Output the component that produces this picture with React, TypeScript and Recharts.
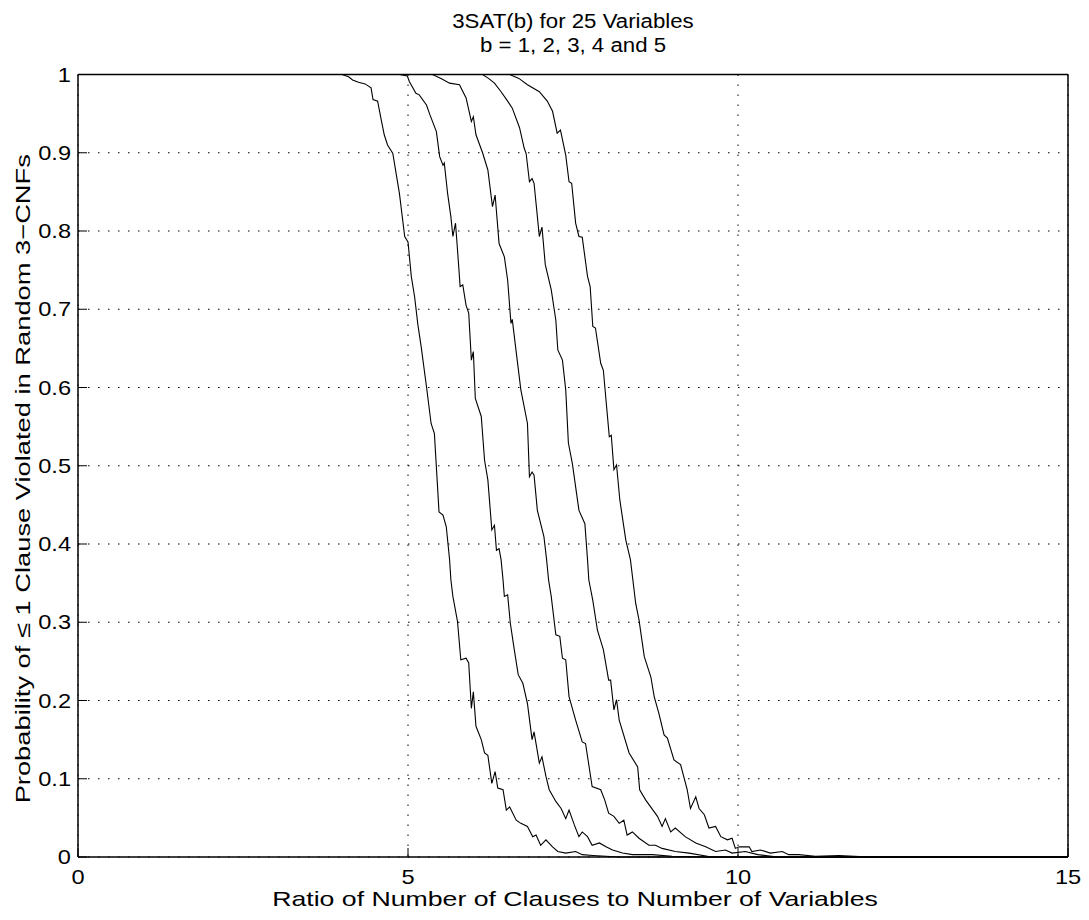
import { LineChart, Line, XAxis, YAxis, CartesianGrid, Label } from 'recharts'

const FONT = '"Liberation Sans", Arial, Helvetica, sans-serif'
const TICK_LEN = 9

const xTicks = [0, 5, 10, 15]
const yTicks = [0, 0.1, 0.2, 0.3, 0.4, 0.5, 0.6, 0.7, 0.8, 0.9, 1]

const title1 = '3SAT(b) for 25 Variables'
const title2 = 'b = 1, 2, 3, 4 and 5'
const xLabel = 'Ratio of Number of Clauses to Number of Variables'
const yLabel = 'Probability of \u2264 1 Clause Violated in Random 3\u2212CNFs'

// [ratio, probability], one list per b
const b1 = [
  [0, 1], [4.0, 1], [4.1, 0.997], [4.16, 0.993], [4.25, 0.99], [4.35, 0.988], [4.44, 0.983],
  [4.47, 0.968], [4.54, 0.966], [4.59, 0.944], [4.64, 0.923], [4.69, 0.91], [4.75, 0.902],
  [4.77, 0.899], [4.87, 0.848], [4.95, 0.793], [5.0, 0.786], [5.05, 0.742], [5.1, 0.716],
  [5.15, 0.68], [5.2, 0.652], [5.28, 0.601], [5.35, 0.554], [5.4, 0.541], [5.47, 0.441],
  [5.53, 0.437], [5.58, 0.422], [5.63, 0.38], [5.65, 0.354], [5.68, 0.333], [5.75, 0.301],
  [5.8, 0.252], [5.88, 0.254], [5.92, 0.248], [5.96, 0.19], [5.99, 0.211], [6.03, 0.167],
  [6.11, 0.15], [6.16, 0.133], [6.21, 0.13], [6.27, 0.094], [6.32, 0.109], [6.36, 0.088],
  [6.44, 0.086], [6.49, 0.06], [6.54, 0.064], [6.64, 0.047], [6.71, 0.043], [6.81, 0.039],
  [6.89, 0.026], [6.94, 0.028], [7.01, 0.015], [7.09, 0.022], [7.19, 0.013], [7.27, 0.007],
  [7.39, 0.005], [7.54, 0.007], [7.64, 0.003], [7.8, 0.002], [8.2, 0], [15, 0],
]

const b2 = [
  [0, 1], [4.87, 1], [4.99, 0.998], [5.02, 0.991], [5.12, 0.976], [5.17, 0.974], [5.28, 0.961],
  [5.33, 0.949], [5.43, 0.927], [5.48, 0.895], [5.53, 0.884], [5.55, 0.887], [5.6, 0.848],
  [5.65, 0.818], [5.68, 0.793], [5.72, 0.81], [5.75, 0.776], [5.79, 0.729], [5.83, 0.731],
  [5.88, 0.705], [5.92, 0.695], [5.96, 0.635], [5.99, 0.646], [6.02, 0.586], [6.11, 0.563],
  [6.16, 0.507], [6.21, 0.482], [6.27, 0.418], [6.31, 0.424], [6.34, 0.392], [6.38, 0.394],
  [6.41, 0.38], [6.44, 0.354], [6.46, 0.333], [6.51, 0.335], [6.55, 0.299], [6.61, 0.265],
  [6.67, 0.233], [6.74, 0.222], [6.81, 0.196], [6.88, 0.15], [6.91, 0.16], [6.99, 0.12],
  [7.03, 0.128], [7.09, 0.103], [7.14, 0.086], [7.24, 0.071], [7.32, 0.062], [7.39, 0.049],
  [7.44, 0.06], [7.52, 0.041], [7.59, 0.026], [7.64, 0.032], [7.72, 0.026], [7.79, 0.015],
  [7.9, 0.018], [8.0, 0.013], [8.1, 0.009], [8.25, 0.005], [8.4, 0.003], [8.7, 0.003],
  [9.0, 0.001], [9.5, 0], [15, 0],
]

const b3 = [
  [0, 1], [5.37, 1], [5.5, 0.995], [5.63, 0.989], [5.78, 0.987], [5.88, 0.97], [5.96, 0.94],
  [5.99, 0.946], [6.03, 0.923], [6.13, 0.9], [6.21, 0.878], [6.28, 0.831], [6.32, 0.846],
  [6.38, 0.784], [6.46, 0.767], [6.51, 0.737], [6.56, 0.682], [6.58, 0.687], [6.63, 0.652],
  [6.71, 0.597], [6.81, 0.554], [6.84, 0.486], [6.88, 0.492], [6.91, 0.488], [6.96, 0.443],
  [7.06, 0.409], [7.1, 0.38], [7.13, 0.354], [7.17, 0.333], [7.24, 0.284], [7.3, 0.282],
  [7.34, 0.254], [7.39, 0.252], [7.44, 0.205], [7.54, 0.175], [7.64, 0.147], [7.69, 0.145],
  [7.79, 0.09], [7.92, 0.086], [7.98, 0.073], [8.04, 0.056], [8.12, 0.052], [8.2, 0.043],
  [8.27, 0.047], [8.32, 0.028], [8.4, 0.032], [8.5, 0.024], [8.65, 0.015], [8.75, 0.015],
  [8.85, 0.011], [9.05, 0.007], [9.26, 0.005], [9.6, 0], [15, 0],
]

const b4 = [
  [0, 1], [6.13, 1], [6.22, 0.995], [6.31, 0.989], [6.41, 0.978], [6.51, 0.966], [6.58, 0.957],
  [6.69, 0.932], [6.76, 0.906], [6.79, 0.899], [6.84, 0.863], [6.88, 0.867], [6.91, 0.861],
  [6.99, 0.793], [7.03, 0.805], [7.08, 0.757], [7.17, 0.725], [7.24, 0.686], [7.27, 0.648],
  [7.34, 0.635], [7.39, 0.597], [7.43, 0.529], [7.49, 0.503], [7.59, 0.443], [7.68, 0.426],
  [7.72, 0.38], [7.74, 0.354], [7.8, 0.328], [7.87, 0.29], [7.96, 0.265], [8.04, 0.226],
  [8.07, 0.226], [8.12, 0.188], [8.16, 0.201], [8.2, 0.175], [8.35, 0.133], [8.48, 0.115],
  [8.51, 0.086], [8.6, 0.073], [8.78, 0.052], [8.85, 0.039], [8.9, 0.049], [8.98, 0.032],
  [9.05, 0.037], [9.2, 0.026], [9.36, 0.018], [9.51, 0.013], [9.66, 0.007], [9.81, 0.009],
  [9.91, 0.005], [10.11, 0.007], [10.3, 0.003], [10.6, 0], [15, 0],
]

const b5 = [
  [0, 1], [6.54, 1], [6.68, 0.995], [6.81, 0.987], [6.99, 0.978], [7.11, 0.966], [7.19, 0.953],
  [7.26, 0.925], [7.31, 0.929], [7.39, 0.897], [7.44, 0.863], [7.48, 0.861], [7.54, 0.81],
  [7.59, 0.793], [7.64, 0.792], [7.72, 0.742], [7.76, 0.729], [7.8, 0.678], [7.84, 0.676],
  [7.92, 0.631], [7.96, 0.622], [8.0, 0.584], [8.05, 0.537], [8.08, 0.539], [8.12, 0.495],
  [8.16, 0.501], [8.21, 0.456], [8.3, 0.405], [8.37, 0.38], [8.45, 0.324], [8.5, 0.303],
  [8.58, 0.256], [8.68, 0.23], [8.73, 0.205], [8.8, 0.184], [8.88, 0.156], [8.93, 0.152],
  [9.03, 0.124], [9.13, 0.118], [9.23, 0.086], [9.28, 0.062], [9.36, 0.077], [9.41, 0.062],
  [9.49, 0.054], [9.56, 0.037], [9.66, 0.039], [9.74, 0.026], [9.84, 0.022], [9.91, 0.024],
  [9.96, 0.011], [10.02, 0.013], [10.17, 0.013], [10.21, 0.007], [10.34, 0.009], [10.49, 0.005],
  [10.67, 0.007], [10.77, 0.003], [10.92, 0.003], [11.17, 0.001], [11.53, 0.002], [12.0, 0],
  [15, 0],
]

const series = [b1, b2, b3, b4, b5]

const toPoints = (pairs: number[][]) => pairs.map(([x, y]) => ({ x, y }))

// the original's lettering is a wide Helvetica, so stretch it a little
function WideText({ x, y, size, sx, anchor = 'middle', rotate = 0, children }: any) {
  return (
    <text
      transform={`translate(${x}, ${y}) rotate(${rotate}) scale(${sx}, 1)`}
      x={0}
      y={0}
      textAnchor={anchor}
      fontSize={size}
      fontFamily={FONT}
      fill="#000"
    >
      {children}
    </text>
  )
}

function BottomTick(props: any) {
  const { x, y, payload } = props
  return (
    <g>
      <line x1={x} x2={x} y1={y} y2={y - TICK_LEN} stroke="#000" />
      <WideText x={x} y={y + 27} size={20} sx={1.18}>{payload.value}</WideText>
    </g>
  )
}

function TopTick(props: any) {
  const { x, y } = props
  return <line x1={x} x2={x} y1={y} y2={y + TICK_LEN} stroke="#000" />
}

function LeftTick(props: any) {
  const { x, y, payload } = props
  return (
    <g>
      <line x1={x} x2={x + TICK_LEN} y1={y} y2={y} stroke="#000" />
      <WideText x={x - 7} y={y + 7} size={20} sx={1.18} anchor="end">{String(payload.value)}</WideText>
    </g>
  )
}

function RightTick(props: any) {
  const { x, y } = props
  return <line x1={x} x2={x - TICK_LEN} y1={y} y2={y} stroke="#000" />
}

function XLabelContent(props: any) {
  const vb = props.viewBox ?? { x: 78, y: 857, width: 990, height: 55 }
  return (
    <WideText x={vb.x + vb.width / 2 + 2} y={vb.y + 48.5} size={21} sx={1.27}>{xLabel}</WideText>
  )
}

function YLabelContent(props: any) {
  const vb = props.viewBox ?? { x: 8, y: 74.5, width: 70, height: 782.5 }
  return (
    <WideText x={vb.x + 22} y={vb.y + vb.height / 2 + 13} size={21} sx={1.3} rotate={-90}>{yLabel}</WideText>
  )
}

function TitleContent(props: any) {
  const vb = props.viewBox ?? { x: 78, y: 73.5, width: 990, height: 1 }
  const cx = vb.x + vb.width / 2
  return (
    <g>
      <WideText x={cx} y={vb.y - 45.5} size={21} sx={1.06}>{title1}</WideText>
      <WideText x={cx} y={vb.y - 21.5} size={21} sx={1.06}>{title2}</WideText>
    </g>
  )
}

export default function App() {
  return (
    <div style={{ position: 'fixed', left: 0, top: 0, width: 1089, height: 920, background: '#fff' }}>
      <LineChart width={1089} height={920} margin={{ top: 73.5, right: 20, bottom: 8, left: 8 }}>
        <CartesianGrid xAxisId="b" yAxisId="l" stroke="#000" strokeDasharray="1.5 8.5" />
        <XAxis
          xAxisId="b"
          dataKey="x"
          type="number"
          domain={[0, 15]}
          ticks={xTicks}
          interval={0}
          height={55}
          tickSize={0}
          tickMargin={0}
          tickLine={false}
          axisLine={{ stroke: '#000', strokeWidth: 1.5 }}
          tick={<BottomTick />}
        >
          <Label content={<XLabelContent />} />
        </XAxis>
        <XAxis
          xAxisId="t"
          orientation="top"
          type="number"
          domain={[0, 15]}
          ticks={xTicks}
          interval={0}
          height={1}
          tickSize={0}
          tickMargin={0}
          tickLine={false}
          axisLine={{ stroke: '#000', strokeWidth: 1.5 }}
          tick={<TopTick />}
        >
          <Label content={<TitleContent />} />
        </XAxis>
        <YAxis
          yAxisId="l"
          type="number"
          domain={[0, 1]}
          ticks={yTicks}
          interval={0}
          width={70}
          tickSize={0}
          tickMargin={0}
          tickLine={false}
          axisLine={{ stroke: '#000', strokeWidth: 1.5 }}
          tick={<LeftTick />}
        >
          <Label content={<YLabelContent />} />
        </YAxis>
        <YAxis
          yAxisId="r"
          orientation="right"
          type="number"
          domain={[0, 1]}
          ticks={yTicks}
          interval={0}
          width={1}
          tickSize={0}
          tickMargin={0}
          tickLine={false}
          axisLine={{ stroke: '#000', strokeWidth: 1.5 }}
          tick={<RightTick />}
        />
        {series.map((s, i) => (
          <Line
            key={`b${i + 1}`}
            xAxisId="b"
            yAxisId="l"
            data={toPoints(s)}
            dataKey="y"
            type="linear"
            stroke="#000"
            strokeWidth={1.1}
            dot={false}
            activeDot={false}
            isAnimationActive={false}
          />
        ))}
      </LineChart>
    </div>
  )
}
